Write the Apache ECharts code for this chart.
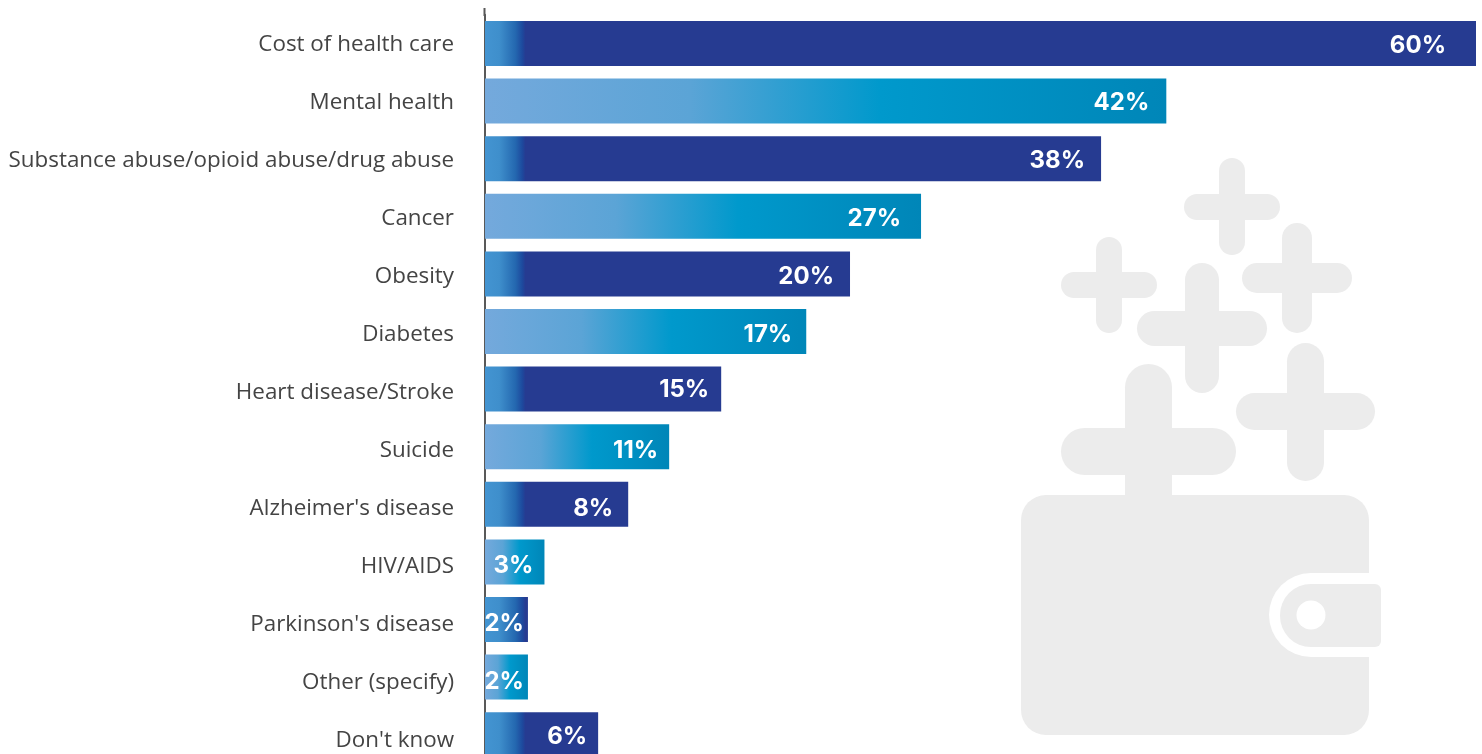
<!DOCTYPE html>
<html><head><meta charset="utf-8">
<style>html,body{margin:0;padding:0;background:#fff;overflow:hidden}#c{width:1482px;height:754px}</style>
<script src="https://cdn.jsdelivr.net/npm/echarts@6/dist/echarts.min.js"></script>
</head><body><div id="c"></div>
<script>
const categories = ["Cost of health care","Mental health","Substance abuse/opioid abuse/drug abuse","Cancer","Obesity","Diabetes","Heart disease/Stroke","Suicide","Alzheimer's disease","HIV/AIDS","Parkinson's disease","Other (specify)","Don't know"];
const printedLabels = ["60%","42%","38%","27%","20%","17%","15%","11%","8%","3%","2%","2%","6%"];
// Bar lengths as drawn in the picture (they differ slightly from the printed percentages)
const barLengths = [60,41.25,37.3,26.4,22.1,19.45,14.3,11.15,8.67,3.6,2.6,2.6,6.85];
const labelInsets = [30,17,16,20,16,14,12,11,15,11,4,4,11];
const labelShiftY = [2,2,2,2,3,3,1,4,4,4,4,5,2];

const DARK_RAMP = 2.45; // axis units over which the dark bars reach full colour
function stop(offset,color){return {offset,color};}
function darkFill(v){
  const e=Math.min(1,DARK_RAMP/v);
  return new echarts.graphic.LinearGradient(0,0,1,0,[stop(0,'#4394d1'),stop(e*0.35,'#3f8fcc'),stop(e*0.75,'#2468b0'),stop(e*0.92,'#1d4a9e'),stop(e,'#263b91'),stop(1,'#263b91')]);
}
function lightFill(){
  return new echarts.graphic.LinearGradient(0,0,1,0,[stop(0,'#74a9dc'),stop(0.3,'#5ba4d6'),stop(0.58,'#0099cc'),stop(1,'#0086b8')]);
}
const GREY='#ececec';
function plus(vx,vy,vw,vh,hx,hy,hw,hh){
  return [
    {type:'rect',shape:{x:vx,y:vy,width:vw,height:vh,r:vw/2},style:{fill:GREY},z:-1},
    {type:'rect',shape:{x:hx,y:hy,width:hw,height:hh,r:hh/2},style:{fill:GREY},z:-1}
  ];
}
const art=[
  ...plus(1125,364,47,160,1061,428,175,47),
  ...plus(1287,343,37,138,1236,393,139,37),
  ...plus(1185,263,34,130,1137,311,130,35),
  ...plus(1282,223,30,110,1242,263,110,30),
  ...plus(1219,158,26,97,1184,194,96,26),
  ...plus(1096,237,26,96,1061,272,96,26),
  {type:'rect',shape:{x:1021,y:495,width:348,height:240,r:25},style:{fill:GREY},z:-1},
  {type:'rect',shape:{x:1269,y:573,width:125,height:84,r:[42,0,0,42]},style:{fill:'#fff'},z:-1},
  {type:'rect',shape:{x:1280,y:584,width:101,height:63,r:[31,6,6,31]},style:{fill:GREY},z:-1},
  {type:'circle',shape:{cx:1311,cy:615,r:14.5},style:{fill:'#fff'},z:-1},
  {type:'line',shape:{x1:484.5,y1:8,x2:484.5,y2:16},style:{stroke:'#595959',lineWidth:2},z:5}
];
const chart=echarts.init(document.getElementById('c'),null,{renderer:'canvas'});
chart.setOption({
  animation:false,
  backgroundColor:'#fff',
  graphic:{elements:art},
  grid:[
    {left:485,top:14.7,width:991,height:748.8,containLabel:false,outerBoundsMode:'none'},
    {left:485,top:15.5,width:991,height:754,containLabel:false,outerBoundsMode:'none'}
  ],
  xAxis:[
    {type:'value',min:0,max:60,show:false,gridIndex:0},
    {type:'value',min:0,max:60,show:false,gridIndex:1}
  ],
  yAxis:[
    {type:'category',inverse:true,gridIndex:0,data:categories,
      axisLine:{show:true,lineStyle:{color:'#595959',width:2}},
      axisTick:{show:false},axisLabel:{show:false}},
    {type:'category',inverse:true,gridIndex:1,data:categories,
      axisLine:{show:false},axisTick:{show:false},
      axisLabel:{margin:31,fontFamily:'"Open Sans"',fontSize:22.4,color:'#444'}}
  ],
  series:[{type:'bar',xAxisIndex:0,yAxisIndex:0,barWidth:45,
    data:barLengths.map((v,i)=>({value:v,
      itemStyle:{color:i%2===0?darkFill(v):lightFill()},
      label:{show:true,position:'insideRight',distance:labelInsets[i],offset:[0,labelShiftY[i]],formatter:printedLabels[i],
        fontFamily:'Inter',fontWeight:'bold',fontSize:24,color:'#fff'}}))
  }]
});
</script></body></html>
